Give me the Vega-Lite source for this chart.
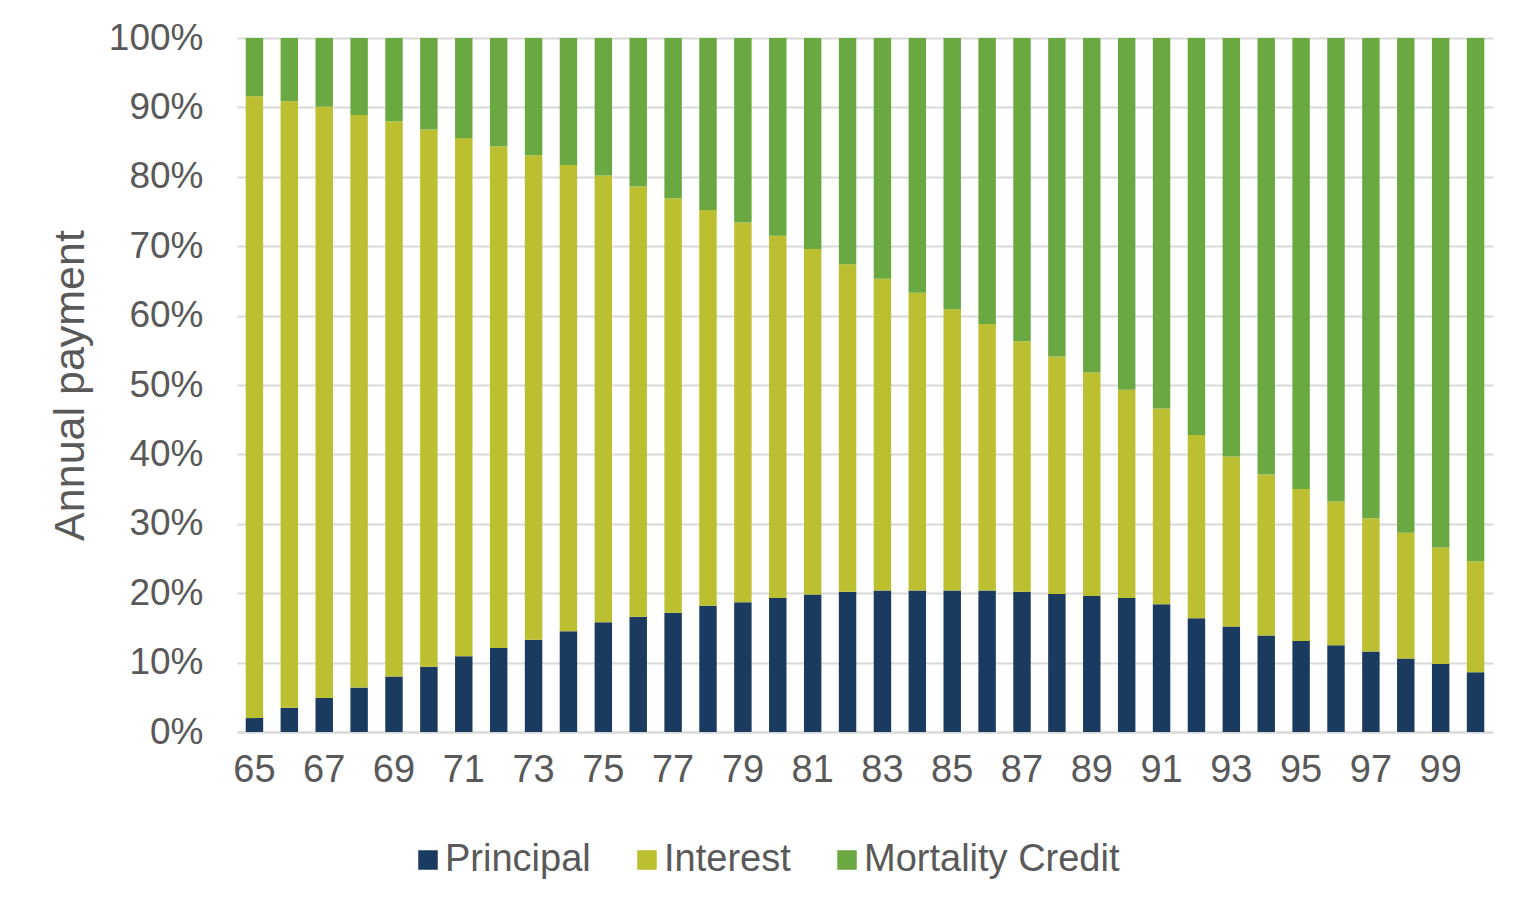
{
  "$schema": "https://vega.github.io/schema/vega-lite/v6.json",
  "width": 1256,
  "height": 694,
  "autosize": {"type": "none"},
  "padding": {"left": 237, "top": 38, "right": 39, "bottom": 183},
  "background": "white",
  "config": {
    "view": {"stroke": null},
    "font": "Liberation Sans",
    "axis": {"labelFont": "Liberation Sans", "titleFont": "Liberation Sans"},
    "legend": {"labelFont": "Liberation Sans"}
  },
  "datasets": {
    "components": [
      {"component": "Principal", "rank": 0},
      {"component": "Interest", "rank": 1},
      {"component": "Mortality Credit", "rank": 2}
    ]
  },
  "data": {
    "values": [
      {"age": 65, "Principal": 2.0, "Interest": 89.6, "Mortality Credit": 8.4},
      {"age": 66, "Principal": 3.5, "Interest": 87.4, "Mortality Credit": 9.1},
      {"age": 67, "Principal": 4.9, "Interest": 85.2, "Mortality Credit": 9.9},
      {"age": 68, "Principal": 6.4, "Interest": 82.5, "Mortality Credit": 11.1},
      {"age": 69, "Principal": 8.0, "Interest": 80.0, "Mortality Credit": 12.0},
      {"age": 70, "Principal": 9.4, "Interest": 77.4, "Mortality Credit": 13.2},
      {"age": 71, "Principal": 10.9, "Interest": 74.7, "Mortality Credit": 14.4},
      {"age": 72, "Principal": 12.1, "Interest": 72.3, "Mortality Credit": 15.6},
      {"age": 73, "Principal": 13.3, "Interest": 69.8, "Mortality Credit": 16.9},
      {"age": 74, "Principal": 14.5, "Interest": 67.2, "Mortality Credit": 18.3},
      {"age": 75, "Principal": 15.8, "Interest": 64.4, "Mortality Credit": 19.8},
      {"age": 76, "Principal": 16.6, "Interest": 62.0, "Mortality Credit": 21.4},
      {"age": 77, "Principal": 17.2, "Interest": 59.7, "Mortality Credit": 23.1},
      {"age": 78, "Principal": 18.2, "Interest": 57.0, "Mortality Credit": 24.8},
      {"age": 79, "Principal": 18.7, "Interest": 54.7, "Mortality Credit": 26.6},
      {"age": 80, "Principal": 19.3, "Interest": 52.2, "Mortality Credit": 28.5},
      {"age": 81, "Principal": 19.8, "Interest": 49.8, "Mortality Credit": 30.4},
      {"age": 82, "Principal": 20.2, "Interest": 47.2, "Mortality Credit": 32.6},
      {"age": 83, "Principal": 20.4, "Interest": 44.9, "Mortality Credit": 34.7},
      {"age": 84, "Principal": 20.4, "Interest": 42.9, "Mortality Credit": 36.7},
      {"age": 85, "Principal": 20.4, "Interest": 40.5, "Mortality Credit": 39.1},
      {"age": 86, "Principal": 20.4, "Interest": 38.4, "Mortality Credit": 41.2},
      {"age": 87, "Principal": 20.2, "Interest": 36.1, "Mortality Credit": 43.7},
      {"age": 88, "Principal": 19.9, "Interest": 34.2, "Mortality Credit": 45.9},
      {"age": 89, "Principal": 19.6, "Interest": 32.2, "Mortality Credit": 48.2},
      {"age": 90, "Principal": 19.3, "Interest": 30.0, "Mortality Credit": 50.7},
      {"age": 91, "Principal": 18.4, "Interest": 28.2, "Mortality Credit": 53.4},
      {"age": 92, "Principal": 16.4, "Interest": 26.4, "Mortality Credit": 57.2},
      {"age": 93, "Principal": 15.2, "Interest": 24.5, "Mortality Credit": 60.3},
      {"age": 94, "Principal": 13.9, "Interest": 23.2, "Mortality Credit": 62.9},
      {"age": 95, "Principal": 13.1, "Interest": 21.9, "Mortality Credit": 65.0},
      {"age": 96, "Principal": 12.5, "Interest": 20.7, "Mortality Credit": 66.8},
      {"age": 97, "Principal": 11.6, "Interest": 19.2, "Mortality Credit": 69.2},
      {"age": 98, "Principal": 10.6, "Interest": 18.1, "Mortality Credit": 71.3},
      {"age": 99, "Principal": 9.8, "Interest": 16.8, "Mortality Credit": 73.4},
      {"age": 100, "Principal": 8.6, "Interest": 16.0, "Mortality Credit": 75.4}
    ]
  },
  "transform": [
    {"fold": ["Principal", "Interest", "Mortality Credit"], "as": ["component", "share"]},
    {
      "lookup": "component",
      "from": {"data": {"name": "components"}, "key": "component", "fields": ["rank"]}
    }
  ],
  "mark": {"type": "bar"},
  "encoding": {
    "x": {
      "field": "age",
      "type": "ordinal",
      "scale": {"paddingInner": 0.5},
      "axis": {
        "title": null,
        "labelAngle": 0,
        "labelExpr": "datum.value % 2 == 1 ? datum.label : ''",
        "labelFontSize": 38,
        "labelColor": "#595959",
        "labelPadding": 19,
        "ticks": false,
        "domainColor": "#d9d9d9",
        "domainWidth": 2
      }
    },
    "y": {
      "field": "share",
      "type": "quantitative",
      "stack": "normalize",
      "scale": {"domain": [0, 1]},
      "axis": {
        "title": "Annual payment",
        "titleFontSize": 43,
        "titleFontWeight": "normal",
        "titleColor": "#595959",
        "titlePadding": 16,
        "values": [0, 0.1, 0.2, 0.3, 0.4, 0.5, 0.6, 0.7, 0.8, 0.9, 1],
        "format": ".0%",
        "labelFontSize": 37,
        "labelColor": "#595959",
        "labelPadding": 34,
        "ticks": false,
        "domain": false,
        "gridColor": "#d9d9d9",
        "gridWidth": 2
      }
    },
    "color": {
      "field": "component",
      "type": "nominal",
      "scale": {
        "domain": ["Principal", "Interest", "Mortality Credit"],
        "range": ["#1b3a5f", "#bcbf30", "#6aa842"]
      },
      "legend": {
        "title": null,
        "orient": "none",
        "legendX": 172,
        "legendY": 803,
        "direction": "horizontal",
        "columns": 3,
        "symbolType": "square",
        "symbolSize": 380,
        "symbolStrokeWidth": 0,
        "labelFontSize": 38,
        "labelColor": "#595959",
        "labelOffset": -2,
        "labelLimit": 400,
        "columnPadding": 37
      }
    },
    "order": {"field": "rank", "type": "quantitative", "sort": "ascending"}
  }
}
